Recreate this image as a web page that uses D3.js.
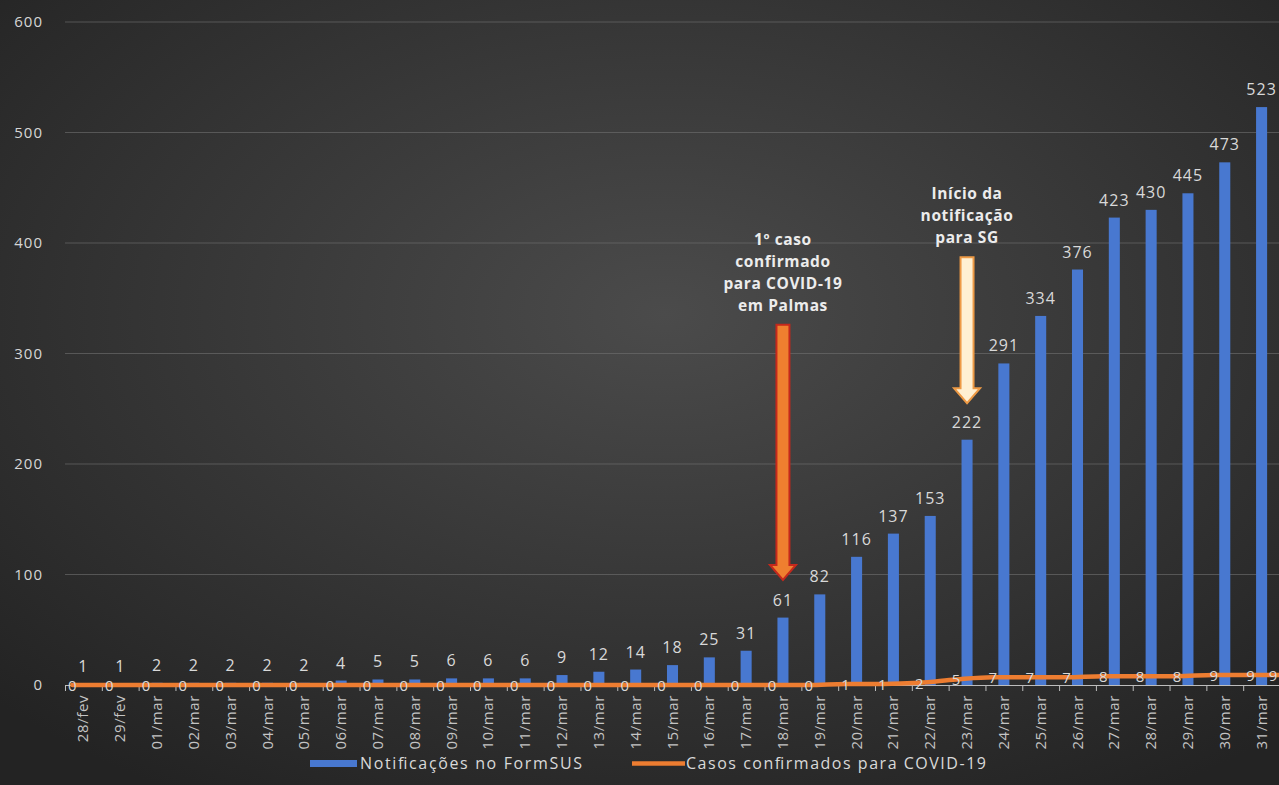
<!DOCTYPE html>
<html>
<head>
<meta charset="utf-8">
<script src="https://cdn.jsdelivr.net/npm/d3@7"></script>
<style>
html,body{margin:0;padding:0;background:#2a2a2a;}
svg{display:block;}
text{font-family:"Open Sans","Noto Sans",sans-serif;}
</style>
</head>
<body>
<svg id="chart" width="1279" height="785"></svg>
<script>
// ---- data ----
const dates = ["28/fev","29/fev","01/mar","02/mar","03/mar","04/mar","05/mar","06/mar","07/mar","08/mar","09/mar","10/mar","11/mar","12/mar","13/mar","14/mar","15/mar","16/mar","17/mar","18/mar","19/mar","20/mar","21/mar","22/mar","23/mar","24/mar","25/mar","26/mar","27/mar","28/mar","29/mar","30/mar","31/mar"];
const notificacoes = [1,1,2,2,2,2,2,4,5,5,6,6,6,9,12,14,18,25,31,61,82,116,137,153,222,291,334,376,423,430,445,473,523];
// line series (its last label sits at the right edge of the plot)
const casos = [0,0,0,0,0,0,0,0,0,0,0,0,0,0,0,0,0,0,0,0,0,1,1,2,5,7,7,7,8,8,8,9,9,9];
const yTicks = [0,100,200,300,400,500,600];
const seriesNames = ["Notificações no FormSUS","Casos confirmados para COVID-19"];
const annotations = [
  {date:"18/mar", lines:["1º caso","confirmado","para COVID-19","em  Palmas"], top:326, tip:95, fill:"#ef7f2f", stroke:"#c4281c"},
  {date:"23/mar", lines:["Início da","notificação","para SG"], top:387, tip:255, fill:"#fff0d2", stroke:"#ee9a45"}
];

(function(){
const W = 1279, H = 785;
const svg = d3.select("#chart");
const defs = svg.append("defs");
const rg = defs.append("radialGradient").attr("id","bg")
  .attr("cx","52%").attr("cy","40%").attr("r","72%");
rg.append("stop").attr("offset","0%").attr("stop-color","#4b4b4b");
rg.append("stop").attr("offset","100%").attr("stop-color","#232323");
svg.append("rect").attr("width",W).attr("height",H).attr("fill","url(#bg)");

const pLeft = 65, pRight = 1280, pTop = 22, pBottom = 685;
const x = d3.scaleBand().domain(dates).range([pLeft, pRight]).padding(0);
const bw = x.bandwidth();
const y = d3.scaleLinear().domain([0,600]).range([pBottom, pTop]);
const xLine = d3.scaleLinear().domain([0, dates.length-1])
  .range([x(dates[0]) + bw/2 - 11, x(dates[dates.length-1]) + bw/2 - 11]);

defs.append("clipPath").attr("id","plotclip").append("rect")
  .attr("x", pLeft).attr("y", 0).attr("width", W - pLeft).attr("height", H);

// gridlines
svg.append("g").selectAll("line").data(yTicks.filter(d=>d>0)).join("line")
  .attr("x1", pLeft).attr("x2", W).attr("y1", d=>y(d)).attr("y2", d=>y(d))
  .attr("stroke","#727272").attr("stroke-opacity",0.6).attr("stroke-width",1);

// y labels
svg.append("g").selectAll("text").data(yTicks).join("text")
  .attr("x", 43).attr("y", d=>y(d)+5).attr("text-anchor","end")
  .attr("fill","#d6d6d6").attr("font-size",15).attr("letter-spacing",1)
  .text(d=>d);

// bars
const barW = bw*0.3;
svg.append("g").selectAll("rect").data(notificacoes).join("rect")
  .attr("x",(d,i)=>x(dates[i]) + bw/2 - barW/2)
  .attr("y", d=>y(d)).attr("width", barW).attr("height", d=>pBottom - y(d))
  .attr("fill","#4878d0");

// bar labels
svg.append("g").selectAll("text").data(notificacoes).join("text")
  .attr("x",(d,i)=>x(dates[i]) + bw/2).attr("y", d=>y(d) - 12)
  .attr("text-anchor","middle").attr("fill","#d9d9d9").attr("font-size",16)
  .attr("letter-spacing",1)
  .text(d=>d);

// x axis
const ax = svg.append("g");
ax.append("line").attr("x1",pLeft).attr("x2",W).attr("y1",pBottom+0.5).attr("y2",pBottom+0.5)
  .attr("stroke","#bdbdbd").attr("stroke-width",1);
ax.selectAll("line.tk").data(dates).join("line").attr("class","tk")
  .attr("x1",d=>x(d)+0.5).attr("x2",d=>x(d)+0.5).attr("y1",pBottom).attr("y2",pBottom+6)
  .attr("stroke","#bdbdbd");
ax.selectAll("text").data(dates).join("text")
  .attr("transform", d=>`translate(${x(d)+bw/2+5},${pBottom+10}) rotate(-90)`)
  .attr("text-anchor","end").attr("fill","#c4c4c4").attr("font-size",15)
  .attr("letter-spacing",0.6)
  .text(d=>d);

// line
const lineGen = d3.line().x((d,i)=>xLine(i)).y(d=>y(d)).curve(d3.curveMonotoneX);
svg.append("path").datum(casos).attr("d", lineGen)
  .attr("clip-path","url(#plotclip)")
  .attr("fill","none").attr("stroke","#ed7d31").attr("stroke-width",4.5)
  .attr("stroke-linecap","round").attr("stroke-linejoin","round");

// line labels
svg.append("g").selectAll("text").data(casos).join("text")
  .attr("x",(d,i)=>Math.min(xLine(i), W - 6)).attr("y", d=>y(d)+6)
  .attr("text-anchor","middle").attr("fill","#d9d9d9").attr("font-size",15)
  .text(d=>d);

// annotations
annotations.forEach(a=>{
  const cx = x(a.date) + bw/2;
  const g = svg.append("g");
  const yt = y(a.top), yb = y(a.tip);
  const sw = 6.5, hw = 13, hh = 15;
  const p = `M${cx-sw},${yt} L${cx+sw},${yt} L${cx+sw},${yb-hh} L${cx+hw},${yb-hh} L${cx},${yb} L${cx-hw},${yb-hh} L${cx-sw},${yb-hh} Z`;
  g.append("path").attr("d",p).attr("fill",a.fill).attr("stroke",a.stroke).attr("stroke-width",2)
    .attr("stroke-linejoin","miter");
  const n = a.lines.length;
  g.selectAll("text").data(a.lines).join("text")
    .attr("x", cx).attr("y",(d,i)=> yt - 14 - (n-1-i)*22)
    .attr("text-anchor","middle").attr("fill","#ececec").attr("font-size",15.5)
    .attr("font-weight","bold").attr("letter-spacing",0.6)
    .text(d=>d);
});

// legend
const lg = svg.append("g");
lg.append("rect").attr("x",310).attr("y",760).attr("width",47).attr("height",7).attr("fill","#4878d0");
lg.append("text").attr("x",360).attr("y",769).attr("fill","#d9d9d9").attr("font-size",16)
  .attr("textLength",222).attr("lengthAdjust","spacing").text(seriesNames[0]);
lg.append("line").attr("x1",632).attr("x2",685).attr("y1",763.5).attr("y2",763.5)
  .attr("stroke","#ed7d31").attr("stroke-width",4.5);
lg.append("text").attr("x",686).attr("y",769).attr("fill","#d9d9d9").attr("font-size",16)
  .attr("textLength",300).attr("lengthAdjust","spacing").text(seriesNames[1]);
})();
</script>
</body>
</html>
